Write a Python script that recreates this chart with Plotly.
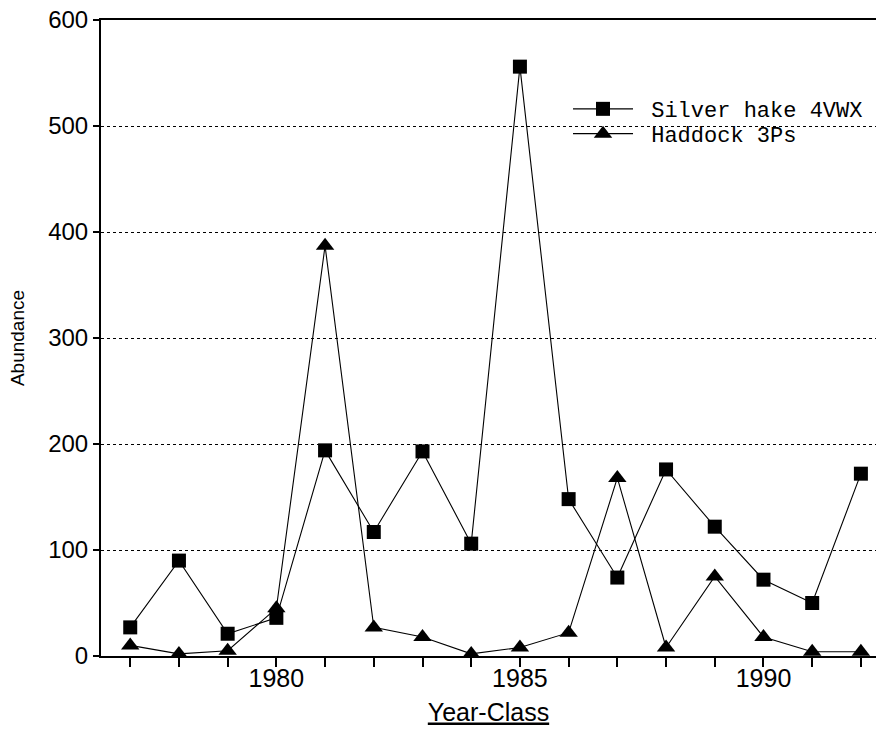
import plotly.graph_objects as go

years = list(range(1977, 1993))
silver_hake = [27, 90, 21, 36, 194, 117, 193, 106, 556, 148, 74, 176, 122, 72, 50, 172]
haddock = [10, 2, 5, 45, 387, 27, 18, 2, 8, 22, 168, 8, 75, 18, 4, 4]
x_tick_labels = {1980: "1980", 1985: "1985", 1990: "1990"}
y_ticks = [0, 100, 200, 300, 400, 500, 600]

fig = go.Figure()
fig.add_trace(go.Scatter(
    x=years, y=silver_hake, mode="lines+markers", name="\u00a0Silver hake 4VWX",
    line=dict(color="black", width=1.1),
    marker=dict(symbol="square", size=14, color="black"),
    legend="legend",
))
fig.add_trace(go.Scatter(
    x=years, y=haddock, mode="lines+markers", name="\u00a0Haddock 3Ps",
    line=dict(color="black", width=1.1),
    marker=dict(symbol="triangle-up", size=16, color="black"),
    legend="legend2",
))

legend_common = dict(
    xanchor="left", yanchor="middle",
    bgcolor="rgba(0,0,0,0)",
    font=dict(family="Liberation Mono, Courier New", size=22, color="black"),
    itemwidth=60,
)

fig.update_layout(
    width=878, height=730,
    margin=dict(l=101, r=2, t=20, b=74),
    paper_bgcolor="white", plot_bgcolor="white",
    font=dict(family="Liberation Sans, Arial", color="black"),
    showlegend=True,
    legend=dict(x=0.6026, y=0.860, **legend_common),
    legend2=dict(x=0.6026, y=0.821, **legend_common),
)
fig.update_xaxes(
    range=[1976.4, 1992.31],
    tickvals=years,
    ticktext=[x_tick_labels.get(y, "") for y in years],
    ticks="outside", ticklen=9, tickwidth=1.5, tickcolor="black",
    tickfont=dict(size=25, family="Liberation Sans, Arial"),
    ticklabelstandoff=-10,
    showline=True, linecolor="black", linewidth=2, mirror=True,
    showgrid=False, zeroline=False,
    title=dict(text="<u>Year-Class</u>", font=dict(size=25, family="Liberation Sans, Arial"), standoff=12),
)
fig.update_yaxes(
    range=[0, 600],
    tickvals=y_ticks,
    ticks="outside", ticklen=6, tickwidth=1.5, tickcolor="black",
    tickfont=dict(size=24, family="Liberation Sans, Arial"),
    showline=True, linecolor="black", linewidth=2, mirror=False,
    showgrid=True, gridcolor="black", gridwidth=1, griddash="dot",
    zeroline=False,
    title=dict(text="Abundance", font=dict(size=19, family="Liberation Sans, Arial"), standoff=19),
)

fig.write_html("out.html")
